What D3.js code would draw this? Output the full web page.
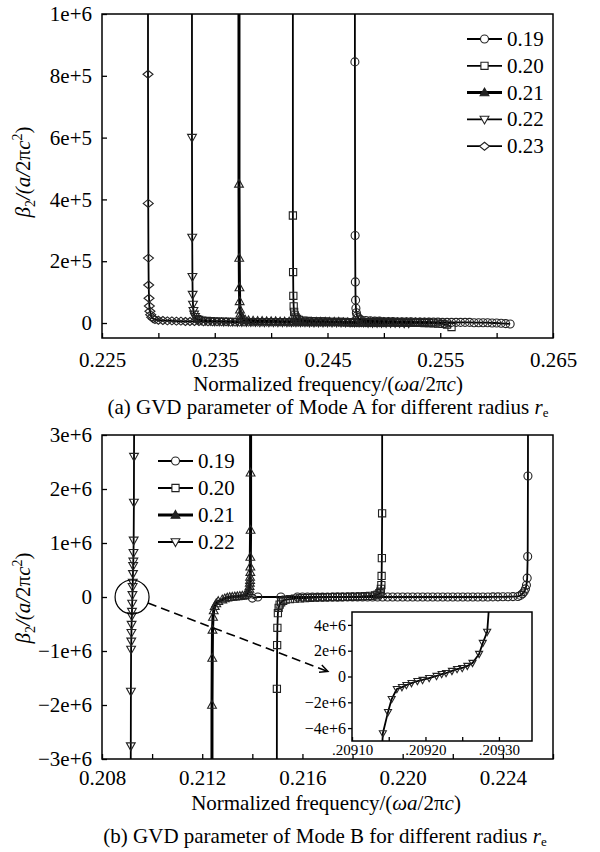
<!DOCTYPE html>
<html><head><meta charset="utf-8">
<script src="https://cdn.jsdelivr.net/npm/d3@7/dist/d3.min.js"></script>
<style>body{margin:0;background:#fff}svg{display:block}</style>
</head><body>
<svg id="chart" width="600" height="852"></svg>
<script>
// ================= DATA =================
// (a) Mode A — series labels (radius r_e) and marker types
const radiiA = ["0.19", "0.20", "0.21", "0.22", "0.23"];
const markersA = ["circle", "square", "triUp", "triDown", "diamond"];
// steep band-edge parts: [normalized frequency, beta2]
const edgeA_019 = [[0.24742,5e6],[0.24743,845e3],[0.24745,283e3],[0.24747,133e3],[0.24749,74e3],[0.24752,48e3],[0.24756,33e3],[0.24762,24e3],[0.24770,18e3],[0.24782,13e3],[0.24798,10e3]];
const edgeA_020 = [[0.24192,5e6],[0.24193,348e3],[0.24195,165e3],[0.24197,88e3],[0.24200,54e3],[0.24204,36e3],[0.24210,25e3],[0.24218,18e3],[0.24230,13e3],[0.24246,10e3]];
const edgeA_021 = [[0.23714,5e6],[0.23715,450e3],[0.23717,210e3],[0.23719,115e3],[0.23721,70e3],[0.23724,43e3],[0.23728,30e3],[0.23734,22e3],[0.23742,16e3],[0.23754,12e3],[0.23770,10e3]];
const edgeA_022 = [[0.23297,5e6],[0.23298,600e3],[0.23300,277e3],[0.23302,150e3],[0.23304,92e3],[0.23307,60e3],[0.23311,40e3],[0.23317,28e3],[0.23325,20e3],[0.23337,14e3],[0.23353,11e3]];
const edgeA_023 = [[0.22907,5e6],[0.22908,805e3],[0.22910,387e3],[0.22912,210e3],[0.22914,123e3],[0.22917,80e3],[0.22920,55e3],[0.22925,38e3],[0.22932,27e3],[0.22941,19e3],[0.22954,14e3],[0.22970,11e3]];
// flat parts sampled on a frequency grid: start, step, beta2 values (in units of 1e3)
const flatA_019 = {start:0.2484, step:0.0004, k:[8,7,6,6,5,5,5,4,4,4,4,3,3,3,3,3,3,2,2,2,2,2,2,2,1,1,1,1,0,0,-1,-2,-3]};
const flatA_020 = {start:0.2428, step:0.0004, k:[8,7,6,5,5,5,4,4,4,4,3,3,3,3,3,3,3,2,2,2,2,2,2,1,1,1,1,0,0,-1,-2,-3,-5,-13]};
const flatA_021 = {start:0.2380, step:0.0004, k:[8,7,6,6,5,5,5,4,4,4,4,4,3,3,3,3,3,3,3,3,3,2,2,2,2,2,2,2,2,2,2,2,1,1,1,1,1,1,1,0,0]};
const flatA_022 = {start:0.2338, step:0.0004, k:[9,8,7,6,6,5,5,5,4,4,4,4,4,3,3,3,3,3,3,3,3,3,3,3,2,2,2,2,2,2,2,2,2,2,2,2,2,1,1,1,1,1,1,1,1,0,0]};
const flatA_023 = {start:0.2300, step:0.0004, k:[9,8,7,7,6,6,5,5,5,5,4,4,4,4,4,4,3,3,3,3,3,3,3,3,3,3,3,3,3,2,2,2,2,2,2,2,2,2,2,2,2,2,2,1,1,1,1,1,1,1,1]};

// (b) Mode B
const radiiB = ["0.19", "0.20", "0.21", "0.22"];
const markersB = ["circle", "square", "triUp", "triDown"];
const headB_019 = [[0.21400,-20e3],[0.21422,0],[0.21514,0]];
const flatB_019 = {start:0.2158, step:0.0002, k:[0,0,0,0,0,0,0,0,0,0,0,0,0,0,0,0,0,0,0,0,0,0,0,0,0,0,0,0,0,0,0,0,0,0,0,0,0,0,0,2,3,4,5,7]};
const edgeB_019 = [[0.22460,10e3],[0.22470,30e3],[0.22478,60e3],[0.22485,100e3],[0.22490,150e3],[0.22494,220e3],[0.22497,350e3],[0.22499,750e3],[0.22500,2.24e6],[0.22502,12e6]];
const edgeLB_020 = [[0.21497,-12e6],[0.21498,-1.7e6],[0.21499,-0.89e6],[0.21500,-0.57e6],[0.21502,-0.30e6],[0.21505,-0.20e6],[0.21509,-0.14e6],[0.21515,-0.10e6],[0.21523,-0.07e6],[0.21533,-0.05e6]];
const flatB_020 = {start:0.2155, step:0.0002, k:[-40,-30,-25,-20,-15,-10,-8,-5,-3,0,0,3,5,8,10,15,20,30]};
const edgeRB_020 = [[0.21900,45e3],[0.21907,70e3],[0.21911,100e3],[0.21913,150e3],[0.21915,220e3],[0.21916,390e3],[0.21917,720e3],[0.21918,1.55e6],[0.21919,12e6]];
const edgeLB_021 = [[0.21238,-12e6],[0.21239,-2.0e6],[0.21240,-1.13e6],[0.21241,-0.61e6],[0.21243,-0.37e6],[0.21246,-0.25e6],[0.21250,-0.17e6],[0.21256,-0.12e6],[0.21264,-0.08e6]];
const flatB_021 = {start:0.2128, step:0.0001, k:[-50,-30,-15,-5,0,5,10,15,20,30]};
const edgeRB_021 = [[0.21378,45e3],[0.21383,70e3],[0.21386,100e3],[0.21388,150e3],[0.21389,200e3],[0.21390,260e3],[0.21391,310e3],[0.21391,370e3],[0.21392,460e3],[0.21392,560e3],[0.21392,740e3],[0.21393,1.24e6],[0.21393,2.3e6],[0.21394,12e6]];
const dataB_022 = [[0.209135,-12e6],[0.209142,-4.4e6],[0.209149,-2.76e6],[0.209154,-1.75e6],[0.209161,-0.97e6],[0.209168,-0.82e6],[0.209174,-0.66e6],[0.209181,-0.51e6],[0.209189,-0.35e6],[0.209196,-0.27e6],[0.209205,-0.12e6],[0.209215,0.04e6],[0.209222,0.19e6],[0.209228,0.27e6],[0.209236,0.43e6],[0.209243,0.58e6],[0.209250,0.66e6],[0.209257,0.82e6],[0.209264,1.05e6],[0.209273,1.75e6],[0.209278,2.6e6],[0.209284,3.46e6],[0.209295,12e6]];

// ticks
const xTicksA = [0.225,0.230,0.235,0.240,0.245,0.250,0.255,0.260,0.265];
const xLabelValsA = [0.225,0.235,0.245,0.255,0.265];
const xLabelsA = ["0.225","0.235","0.245","0.255","0.265"];
const yTicksA = [0,2e5,4e5,6e5,8e5,1e6];
const yLabelsA = ["0","2e+5","4e+5","6e+5","8e+5","1e+6"];
const xTicksB = [0.208,0.210,0.212,0.214,0.216,0.218,0.220,0.222,0.224,0.226];
const xLabelValsB = [0.208,0.212,0.216,0.220,0.224];
const xLabelsB = ["0.208","0.212","0.216","0.220","0.224"];
const yTicksB = [-3e6,-2e6,-1e6,0,1e6,2e6,3e6];
const yLabelsB = ["\u22123e+6","\u22122e+6","\u22121e+6","0","1e+6","2e+6","3e+6"];
const xTicksI = [0.20910,0.20915,0.20920,0.20925,0.20930];
const xLabelValsI = [0.20910,0.20920,0.20930];
const xLabelsI = [".20910",".20920",".20930"];
const yTicksI = [-4e6,-2e6,0,2e6,4e6];
const yLabelsI = ["\u22124e+6","\u22122e+6","0","2e+6","4e+6"];

// ================= HELPERS =================
const FONT = "'Liberation Serif','Times New Roman',serif";
const grid = g => g.k.map((v,i) => [g.start + i*g.step, v*1e3]);
const seriesA = [
  edgeA_019.concat(grid(flatA_019)),
  edgeA_020.concat(grid(flatA_020)),
  edgeA_021.concat(grid(flatA_021)),
  edgeA_022.concat(grid(flatA_022)),
  edgeA_023.concat(grid(flatA_023))
];
const seriesB = [
  headB_019.concat(grid(flatB_019), edgeB_019),
  edgeLB_020.concat(grid(flatB_020), edgeRB_020),
  edgeLB_021.concat(grid(flatB_021), edgeRB_021),
  dataB_022
];
function markerPath(type, s) {
  s = s || 1;
  const f = v => (v*s).toFixed(2);
  switch(type) {
    case "circle": return `M${f(4)},0A${f(4)},${f(4)} 0 1,1 ${f(-4)},0A${f(4)},${f(4)} 0 1,1 ${f(4)},0Z`;
    case "square": return `M${f(-3.6)},${f(-3.6)}H${f(3.6)}V${f(3.6)}H${f(-3.6)}Z`;
    case "triUp": return `M0,${f(-4.6)}L${f(4.4)},${f(3.2)}L${f(-4.4)},${f(3.2)}Z`;
    case "triDown": return `M0,${f(4.6)}L${f(4.4)},${f(-3.2)}L${f(-4.4)},${f(-3.2)}Z`;
    case "diamond": return `M0,${f(-4)}L${f(5)},0L0,${f(4)}L${f(-5)},0Z`;
  }
}
const labelFmt = (vals, labels) => v => { const i = vals.findIndex(u => Math.abs(u-v) < 1e-9); return i >= 0 ? labels[i] : ""; };
function styleAxis(g, size) {
  g.attr("font-family", FONT).attr("font-size", size);
  g.select(".domain").remove();
  g.selectAll(".tick line").attr("stroke", "#000").attr("stroke-width", 1.3);
  g.selectAll(".tick text").attr("fill", "#000");
}

const svg = d3.select("#chart");

function drawSeries(g, data, x, y, marker, lw, clipId, ms) {
  const layer = g.append("g").attr("clip-path", `url(#${clipId})`);
  layer.append("path").datum(data)
    .attr("d", d3.line().x(d => x(d[0])).y(d => y(d[1])))
    .attr("fill", "none").attr("stroke", "#000").attr("stroke-width", lw).attr("stroke-linejoin", "round");
  layer.selectAll("path.m").data(data).join("path").attr("class", "m")
    .attr("transform", d => `translate(${x(d[0])},${y(d[1])})`)
    .attr("d", markerPath(marker, ms))
    .attr("fill", "none").attr("stroke", "#222").attr("stroke-width", 1.1);
}

function yTitle(cx, cy) {
  const t = svg.append("text").attr("transform", `translate(${cx},${cy}) rotate(-90)`)
    .attr("text-anchor", "middle").attr("font-family", FONT).attr("font-size", 21).attr("fill", "#000");
  t.append("tspan").attr("font-style", "italic").text("\u03B2");
  t.append("tspan").attr("font-size", 14).attr("dy", 5).text("2");
  t.append("tspan").attr("dy", -5).attr("font-style", "italic").text("/(a/");
  t.append("tspan").text("2\u03C0");
  t.append("tspan").attr("font-style", "italic").text("c");
  t.append("tspan").attr("font-size", 14).attr("dy", -8).text("2");
  t.append("tspan").attr("dy", 8).text(")");
}
function xTitle(cx, cy) {
  const t = svg.append("text").attr("x", cx).attr("y", cy).attr("text-anchor", "middle")
    .attr("font-family", FONT).attr("font-size", 21).attr("fill", "#000");
  t.append("tspan").text("Normalized frequency/(");
  t.append("tspan").attr("font-style", "italic").text("\u03C9a");
  t.append("tspan").text("/2\u03C0");
  t.append("tspan").attr("font-style", "italic").text("c");
  t.append("tspan").text(")");
}
function caption(cx, cy, txt) {
  const t = svg.append("text").attr("x", cx).attr("y", cy).attr("text-anchor", "middle")
    .attr("font-family", FONT).attr("font-size", 21).attr("fill", "#000");
  t.append("tspan").text(txt);
  t.append("tspan").attr("font-style", "italic").text("r");
  t.append("tspan").attr("font-size", 13).attr("dy", 3).text("e");
}
function legend(x0, y0, dy, labels, markers) {
  labels.forEach((lab, i) => {
    const g = svg.append("g").attr("transform", `translate(${x0},${y0 + i*dy})`);
    const thick = lab === "0.21";
    g.append("line").attr("x1", 0).attr("x2", 35).attr("stroke", "#000").attr("stroke-width", thick ? 3 : 1.8);
    g.append("path").attr("transform", "translate(17.5,0)").attr("d", markerPath(markers[i]))
      .attr("fill", thick ? "#222" : "#fff").attr("stroke", "#222").attr("stroke-width", 1.1);
    g.append("text").attr("x", 40).attr("y", 7).attr("font-family", FONT).attr("font-size", 21).attr("fill", "#000").text(lab);
  });
}

const defs = svg.append("defs");
function clip(id, x0, y0, x1, y1) {
  defs.append("clipPath").attr("id", id).append("rect").attr("x", x0).attr("y", y0).attr("width", x1 - x0).attr("height", y1 - y0);
}

// ================= (a) =================
{
  const L = 102, R = 553, T = 14, B = 338;
  const x = d3.scaleLinear().domain([0.225, 0.265]).range([L, R]);
  const y = d3.scaleLinear().domain([-48.5e3, 1e6]).range([B, T]);
  clip("clipA", L, T, R, B);
  const g = svg.append("g");
  g.append("g").attr("transform", `translate(0,${B})`)
    .call(d3.axisBottom(x).tickValues(xTicksA).tickFormat(labelFmt(xLabelValsA, xLabelsA)).tickSizeInner(-5).tickSizeOuter(0).tickPadding(14))
    .call(a => styleAxis(a, 21));
  g.append("g").attr("transform", `translate(${L},0)`)
    .call(d3.axisLeft(y).tickValues(yTicksA).tickFormat(labelFmt(yTicksA, yLabelsA)).tickSizeInner(-5).tickSizeOuter(0).tickPadding(10))
    .call(a => styleAxis(a, 21));
  [4,3,2,1,0].forEach(i => drawSeries(g, seriesA[i], x, y, markersA[i], i === 2 ? 3 : 1.8, "clipA"));
  g.append("rect").attr("x", L).attr("y", T).attr("width", R - L).attr("height", B - T)
    .attr("fill", "none").attr("stroke", "#000").attr("stroke-width", 1.5);
  legend(467, 39, 26.8, radiiA, markersA);
  yTitle(30, 172);
  xTitle(328, 391);
  caption(328, 414, "(a) GVD parameter of Mode A for different radius ");
}

// ================= (b) =================
{
  const L = 102, R = 553, T = 435, B = 759;
  const x = d3.scaleLinear().domain([0.208, 0.226]).range([L, R]);
  const y = d3.scaleLinear().domain([-3e6, 3e6]).range([B, T]);
  clip("clipB", L, T, R, B);
  const g = svg.append("g");
  g.append("g").attr("transform", `translate(0,${B})`)
    .call(d3.axisBottom(x).tickValues(xTicksB).tickFormat(labelFmt(xLabelValsB, xLabelsB)).tickSizeInner(-5).tickSizeOuter(0).tickPadding(11))
    .call(a => styleAxis(a, 21));
  g.append("g").attr("transform", `translate(${L},0)`)
    .call(d3.axisLeft(y).tickValues(yTicksB).tickFormat(labelFmt(yTicksB, yLabelsB)).tickSizeInner(-5).tickSizeOuter(0).tickPadding(10))
    .call(a => styleAxis(a, 21));
  [3,2,0,1].forEach(i => drawSeries(g, seriesB[i], x, y, markersB[i], i === 2 ? 3 : 1.8, "clipB"));
  g.append("rect").attr("x", L).attr("y", T).attr("width", R - L).attr("height", B - T)
    .attr("fill", "none").attr("stroke", "#000").attr("stroke-width", 1.5);
  legend(158, 461, 27, radiiB, markersB);

  // inset
  const iL = 352, iR = 532, iT = 612, iB = 741;
  const xi = d3.scaleLinear().domain([0.20910, 0.209345]).range([iL, iR]);
  const yi = d3.scaleLinear().domain([-5e6, 5e6]).range([iB, iT]);
  clip("clipI", iL, iT, iR, iB);
  const gi = svg.append("g");
  gi.append("rect").attr("x", iL).attr("y", iT).attr("width", iR - iL).attr("height", iB - iT).attr("fill", "#fff");
  gi.append("g").attr("transform", `translate(0,${iB})`)
    .call(d3.axisBottom(xi).tickValues(xTicksI).tickFormat(labelFmt(xLabelValsI, xLabelsI)).tickSizeInner(-4).tickSizeOuter(0).tickPadding(3))
    .call(a => styleAxis(a, 15));
  gi.append("g").attr("transform", `translate(${iL},0)`)
    .call(d3.axisLeft(yi).tickValues(yTicksI).tickFormat(labelFmt(yTicksI, yLabelsI)).tickSizeInner(4).tickSizeOuter(0).tickPadding(2))
    .call(a => styleAxis(a, 16));
  drawSeries(gi, dataB_022, xi, yi, "triDown", 1.8, "clipI", 0.8);
  gi.append("rect").attr("x", iL).attr("y", iT).attr("width", iR - iL).attr("height", iB - iT)
    .attr("fill", "none").attr("stroke", "#000").attr("stroke-width", 1.5);

  // annotation: circle around the 0.22 zero crossing and dashed pointer to inset
  const cx = x(0.2092), cy = y(0), r = 17;
  svg.append("circle").attr("cx", cx).attr("cy", cy).attr("r", r).attr("fill", "none").attr("stroke", "#000").attr("stroke-width", 1.2);
  const tx = iL - 24, ty = yi(0) - 5;
  const ang = Math.atan2(ty - cy, tx - cx);
  const sx = cx + r * Math.cos(ang), sy = cy + r * Math.sin(ang);
  svg.append("line").attr("x1", sx).attr("y1", sy).attr("x2", tx).attr("y2", ty)
    .attr("stroke", "#000").attr("stroke-width", 1.6).attr("stroke-dasharray", "9,5");
  const ah = 9, aw = 0.45;
  svg.append("path")
    .attr("d", `M${tx - ah*Math.cos(ang - aw)},${ty - ah*Math.sin(ang - aw)}L${tx},${ty}L${tx - ah*Math.cos(ang + aw)},${ty - ah*Math.sin(ang + aw)}`)
    .attr("fill", "none").attr("stroke", "#000").attr("stroke-width", 1.4);

  yTitle(30, 598);
  xTitle(326, 810);
  caption(325, 843, "(b) GVD parameter of Mode B for different radius ");
}
</script>
</body></html>
